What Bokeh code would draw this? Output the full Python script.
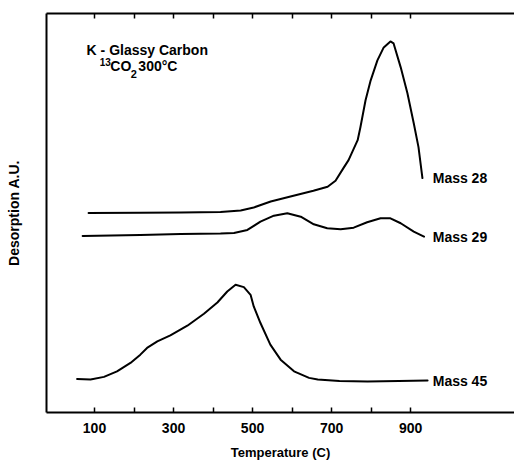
from bokeh.plotting import figure
from bokeh.models import Range1d, LinearAxis, FixedTicker, Label
from bokeh.embed import file_html
from bokeh.resources import INLINE

# Temperature (C) and desorption (arbitrary units)
t28 = [85, 216, 318, 419, 470, 503, 546, 596, 654, 690, 710, 730, 743, 766, 773, 786, 799, 816, 832, 849, 857, 875, 892, 908, 920, 930]
m28 = [200, 200.2, 200.6, 201, 202.5, 205.5, 211.5, 216.5, 222.3, 226.3, 232.3, 245, 253, 273, 286, 313, 333, 353, 366, 372, 370, 346, 320, 290, 266, 235]

t29 = [70, 216, 318, 419, 453, 487, 520, 554, 588, 622, 655, 689, 723, 756, 790, 824, 849, 875, 908, 934]
m29 = [177, 178, 179, 179.5, 180, 183, 191.3, 197.3, 199.7, 196.3, 188.7, 184.7, 183.7, 185.3, 190.7, 194.7, 194.7, 189.7, 181.3, 176.3]

t45 = [56, 90, 124, 157, 191, 216, 233, 259, 292, 335, 377, 411, 436, 457, 478, 495, 503, 520, 545, 571, 605, 643, 665, 720, 791, 870, 943]
m45 = [33.7, 33, 35.7, 41.3, 49.7, 58, 64.7, 71.3, 77.3, 87, 99, 110.3, 121.3, 128, 125.7, 118, 106.3, 89.7, 68, 53, 41.3, 34.7, 33, 31.5, 31, 31.5, 32]

x_ticks = [100, 200, 300, 400, 500, 600, 700, 800, 900]
x_labels = {100: "100", 200: "", 300: "300", 400: "", 500: "500", 600: "", 700: "700", 800: "", 900: "900"}

series_names = ["Mass 28", "Mass 29", "Mass 45"]

FONT = "Liberation Sans"

p = figure(width=514, height=462, x_range=Range1d(-21.5, 1163), y_range=Range1d(0, 400),
           x_axis_type=None, y_axis_type=None, output_backend="svg", toolbar_location=None,
           min_border_left=46, min_border_right=0, min_border_top=13, min_border_bottom=49)
p.outline_line_color = None
p.background_fill_color = "white"
p.border_fill_color = "white"

bottom = LinearAxis(ticker=FixedTicker(ticks=x_ticks), major_label_overrides=x_labels,
                    major_tick_in=5, major_tick_out=0, minor_tick_line_color=None,
                    axis_line_width=2, axis_line_color="black",
                    major_tick_line_width=1.5, major_tick_line_color="black",
                    major_label_text_font=FONT, major_label_text_font_style="bold",
                    major_label_text_font_size="14px", major_label_standoff=10,
                    major_label_text_color="black",
                    axis_label="Temperature (C)", axis_label_text_font=FONT,
                    axis_label_text_font_style="bold", axis_label_text_font_size="13px",
                    axis_label_text_color="black", axis_label_standoff=9)
p.add_layout(bottom, "below")

top = LinearAxis(ticker=FixedTicker(ticks=x_ticks), major_label_overrides={k: "" for k in x_ticks},
                 major_tick_in=5, major_tick_out=0, minor_tick_line_color=None,
                 axis_line_width=2, axis_line_color="black",
                 major_tick_line_width=1.5, major_tick_line_color="black",
                 major_label_text_font_size="1px", major_label_standoff=0)
p.add_layout(top, "above")

left = LinearAxis(ticker=FixedTicker(ticks=[]), axis_line_width=2, axis_line_color="black",
                  major_tick_line_color=None, minor_tick_line_color=None,
                  major_label_text_font_size="1px", major_label_standoff=0,
                  axis_label="Desorption A.U.", axis_label_text_font=FONT,
                  axis_label_text_font_style="bold", axis_label_text_font_size="14px",
                  axis_label_text_color="black", axis_label_standoff=25)
p.add_layout(left, "left")

for t, m in [(t28, m28), (t29, m29), (t45, m45)]:
    p.line(t, m, line_color="black", line_width=2, line_join="round", line_cap="round")

common = dict(text_font=FONT, text_font_style="bold", text_baseline="middle",
              text_align="left", text_color="black")

label_y = [m28[-1], m29[-1], m45[-1]]
for name, yv in zip(series_names, label_y):
    p.add_layout(Label(x=956, y=yv, text=name, text_font_size="14px", **common))

p.add_layout(Label(x=80, y=363, text="K - Glassy Carbon", text_font_size="14px", **common))
p.add_layout(Label(x=113, y=351, text="13", text_font_size="10px", **common))
p.add_layout(Label(x=140, y=347, text="CO", text_font_size="14px", **common))
p.add_layout(Label(x=192, y=339, text="2", text_font_size="11px", **common))
p.add_layout(Label(x=211, y=347, text="300°C", text_font_size="14px", **common))

open("out.html", "w").write(file_html(p, INLINE))
